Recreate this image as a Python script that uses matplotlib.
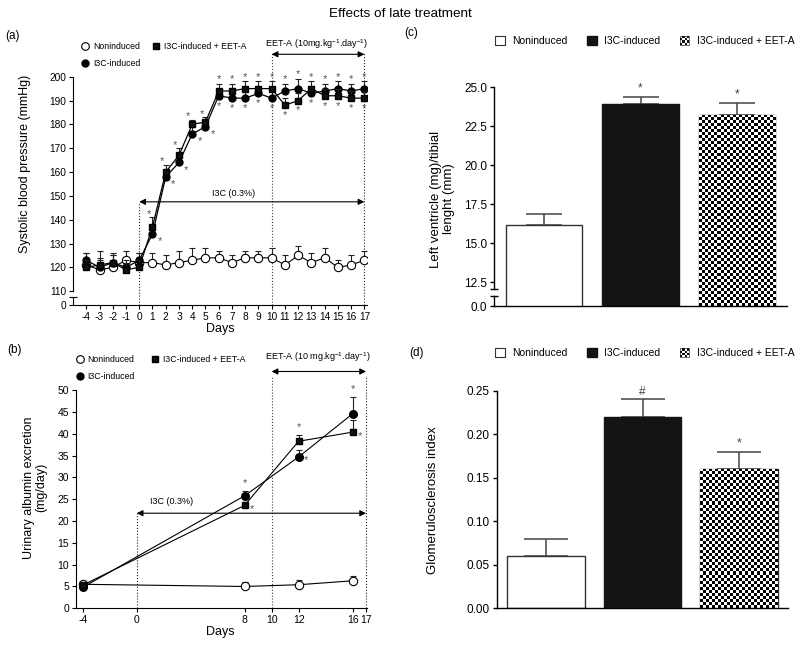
import numpy as np
import matplotlib
matplotlib.use('Agg')
import matplotlib.pyplot as plt
import matplotlib.transforms as mtransforms
from matplotlib.patches import Rectangle, Patch
from matplotlib.lines import Line2D
from matplotlib.legend_handler import HandlerBase

plt.rcParams['font.family'] = ['Liberation Sans', 'DejaVu Sans']
plt.rcParams['mathtext.fontset'] = 'custom'
plt.rcParams['mathtext.rm'] = 'Liberation Sans'
plt.rcParams['mathtext.default'] = 'regular'

# ---------------- data ----------------
days_a = list(range(-4, 18))
sbp_non = [121, 119, 120, 123, 122, 122, 121, 122, 123, 124, 124, 122, 124, 124, 124, 121, 125, 122, 124, 120, 121, 123]
sbp_non_err = [5, 8, 6, 4, 4, 4, 4, 5, 5, 4, 3, 3, 3, 3, 4, 4, 4, 4, 4, 3, 4, 4]
sbp_i3c = [123, 120, 122, 120, 123, 134, 158, 164, 176, 179, 192, 191, 191, 193, 191, 194, 195, 193, 194, 195, 194, 195]
sbp_i3c_err = [3, 3, 3, 3, 3, 3, 3, 3, 3, 3, 3, 3, 3, 3, 3, 3, 4, 3, 3, 3, 3, 3]
sbp_eet = [120, 121, 122, 119, 120, 137, 160, 167, 180, 181, 194, 194, 195, 195, 195, 188, 190, 195, 192, 192, 191, 191]
sbp_eet_err = [3, 3, 3, 3, 3, 4, 3, 3, 2, 2, 3, 3, 3, 3, 3, 3, 3, 3, 3, 3, 3, 3]
xticks_a = list(range(-4, 18))
yticks_a = [110, 120, 130, 140, 150, 160, 170, 180, 190, 200]

days_b = [-4, 8, 12, 16]
ua_non = [5.5, 5.0, 5.4, 6.3]
ua_non_err = [0.8, 1.0, 1.0, 1.0]
ua_i3c = [4.8, 25.8, 34.7, 44.6]
ua_i3c_err = [0.6, 1.2, 1.5, 3.9]
ua_eet = [5.3, 23.6, 38.3, 40.4]
ua_eet_err = [0.6, 0.8, 1.5, 2.8]
xticks_b = [-4, 0, 8, 10, 12, 16, 17]
yticks_b = [0, 5, 10, 15, 20, 25, 30, 35, 40, 45, 50]

groups = ['Noninduced', 'I3C-induced', 'I3C-induced + EET-A']
lv_ratio = [16.2, 23.9, 23.25]
lv_err = [0.65, 0.45, 0.77]
lv_marks = ['', '*', '*']
yticks_c = [12.5, 15.0, 17.5, 20.0, 22.5, 25.0]
gs_index = [0.06, 0.22, 0.16]
gs_err = [0.02, 0.02, 0.02]
gs_marks = ['', '#', '*']
yticks_d = [0.00, 0.05, 0.10, 0.15, 0.20, 0.25]

series_labels = ['Noninduced', 'I3C-induced', 'I3C-induced + EET-A']

# ---------------- helpers ----------------
TK = 7.3
def style_axes(ax, lw=0.8):
    for s in ['top', 'right']:
        ax.spines[s].set_visible(False)
    for s in ['left', 'bottom']:
        ax.spines[s].set_linewidth(lw)
    ax.tick_params(direction='out', length=3, width=lw, pad=2)


def axis_break(ax, y0, y1, lw=0.8, cap_upper=None):
    tr = mtransforms.blended_transform_factory(ax.transAxes, ax.transData)
    ax.plot([0, 0], [y0, y1], transform=tr, color='k', lw=lw, clip_on=False)
    ax.plot([0], [y1], transform=tr, marker='_', ms=6, mew=lw, color='k', clip_on=False)
    if cap_upper is not None:
        ax.plot([0], [cap_upper], transform=tr, marker='_', ms=6, mew=lw, color='k', clip_on=False)


def checker_fill(ax, bar, cell_px=3.0):
    x0, w = bar.get_x(), bar.get_width()
    yb = max(bar.get_y(), ax.get_ylim()[0])
    yt = bar.get_y() + bar.get_height()
    p0 = ax.transData.transform((x0, yb))
    p1 = ax.transData.transform((x0 + w, yt))
    nx = max(1, int(round((p1[0] - p0[0]) / cell_px)))
    ny = max(1, int(round((p1[1] - p0[1]) / cell_px)))
    img = (np.add.outer(np.arange(ny), np.arange(nx)) % 2).astype(float)
    im = ax.imshow(img, cmap='gray', vmin=0, vmax=1, extent=(x0, x0 + w, yb, yt),
                   origin='lower', interpolation='nearest', aspect='auto',
                   zorder=bar.get_zorder() + 0.05)
    im.set_clip_path(bar)


class CheckerHandler(HandlerBase):
    def create_artists(self, legend, orig_handle, xdescent, ydescent, width, height, fontsize, trans):
        size = min(width, height)
        x0 = -xdescent + (width - size) / 2
        y0 = -ydescent + (height - size) / 2
        n = 4
        c = size / n
        arts = [Rectangle((x0, y0), size, size, facecolor='white', edgecolor='#333', lw=0.5, transform=trans)]
        for i in range(n):
            for j in range(n):
                if (i + j) % 2 == 0:
                    arts.append(Rectangle((x0 + i * c, y0 + j * c), c, c, facecolor='#111',
                                          edgecolor='none', transform=trans))
        return arts


fig = plt.figure(figsize=(8, 6.46), dpi=100)
fig.text(0.5, 0.978, 'Effects of late treatment', ha='center', va='center', fontsize=9.7)

# ================= panel (a) =================
axA = fig.add_axes([0.0913, 0.5271, 0.3675, 0.3542])
style_axes(axA)
zer = np.zeros(len(days_a))
axA.errorbar(days_a, sbp_non, yerr=[zer, sbp_non_err], fmt='-o', color='k', mfc='white', mec='k',
             ms=6, mew=0.8, lw=0.8, ecolor='#222', elinewidth=0.8, capsize=2.5, capthick=0.8, zorder=2)
axA.errorbar(days_a, sbp_i3c, yerr=[zer, sbp_i3c_err], fmt='-o', color='k', mfc='k', mec='k',
             ms=5, lw=0.9, ecolor='#222', elinewidth=0.8, capsize=2.5, capthick=0.8, zorder=3)
axA.errorbar(days_a, sbp_eet, yerr=[zer, sbp_eet_err], fmt='-s', color='k', mfc='#111', mec='k',
             ms=5, lw=0.9, ecolor='#222', elinewidth=0.8, capsize=2.5, capthick=0.8, zorder=4)
axA.set_xlim(-5, 17.2)
axA.set_ylim(104, 200)
axA.spines['left'].set_bounds(110, 200)
axA.set_yticks([104] + yticks_a)
axA.set_yticklabels(['0'] + [str(v) for v in yticks_a], fontsize=TK)
axA.set_xticks(xticks_a)
axA.set_xticklabels([str(v) for v in xticks_a], fontsize=TK)
axis_break(axA, 104, 107.5)

star_kw = dict(ha='center', va='center', fontsize=8, color='#555', clip_on=False)
for i, d in enumerate(days_a):
    if d < 1:
        continue
    hi = max(sbp_i3c[i] + sbp_i3c_err[i], sbp_eet[i] + sbp_eet_err[i])
    lo = min(sbp_i3c[i], sbp_eet[i])
    if d <= 5:
        axA.text(d - 0.3, hi + 1.5, '*', **star_kw)
        axA.text(d + 0.55, lo - 3.0, '*', **star_kw)
    else:
        axA.text(d, hi + 2.0, '*', **star_kw)
        axA.text(d, lo - 4.2, '*', **star_kw)

# treatment annotations
axA.plot([0, 0], [104, 147.5], ls=':', color='#222', lw=0.8)
axA.plot([10, 10], [104, 210.5], ls=':', color='#444', lw=0.8, clip_on=False)
axA.plot([17, 17], [104, 210.5], ls=':', color='#222', lw=0.8, clip_on=False)
arr = dict(arrowstyle='<|-|>', color='k', lw=0.8, mutation_scale=9, shrinkA=0, shrinkB=0)
axA.annotate('', xy=(17, 147.5), xytext=(0, 147.5), arrowprops=arr, annotation_clip=False)
axA.text(7.1, 151, 'I3C (0.3%)', ha='center', va='center', fontsize=6.5)
axA.annotate('', xy=(17, 209.4), xytext=(10, 209.4), arrowprops=arr, annotation_clip=False)
axA.text(13.4, 213.5, 'EET-A (10mg.kg$^{-1}$.day$^{-1}$)', ha='center', va='center', fontsize=6.5)

hA = [Line2D([], [], ls='none', marker='o', mfc='white', mec='k', ms=5.5, mew=0.8),
      Line2D([], [], ls='none', marker='o', mfc='k', mec='k', ms=5),
      Line2D([], [], ls='none', marker='s', mfc='#111', mec='k', ms=5)]
fig.legend(hA, series_labels, ncol=2, loc='upper left', bbox_to_anchor=(0.102, 0.935),
           frameon=False, fontsize=6.3, handlelength=0.8, handletextpad=0.5,
           columnspacing=1.4, labelspacing=0.95, borderpad=0, borderaxespad=0)

fig.text(0.031, 0.746, 'Systolic blood pressure (mmHg)', rotation=90, ha='center', va='center', fontsize=9)
fig.text(0.275, 0.490, 'Days', ha='center', va='center', fontsize=9)
fig.text(0.015, 0.944, '(a)', ha='center', va='center', fontsize=8.5)

# ================= panel (b) =================
axB = fig.add_axes([0.095, 0.0584, 0.3634, 0.3375])
style_axes(axB)
zb = np.zeros(len(days_b))
axB.errorbar(days_b, ua_non, yerr=[zb, ua_non_err], fmt='-o', color='k', mfc='white', mec='k',
             ms=6, mew=0.8, lw=0.8, ecolor='#222', elinewidth=0.8, capsize=2.5, capthick=0.8, zorder=2)
axB.errorbar(days_b, ua_i3c, yerr=[zb, ua_i3c_err], fmt='-o', color='k', mfc='k', mec='k',
             ms=5.5, lw=0.8, ecolor='#222', elinewidth=0.8, capsize=2.5, capthick=0.8, zorder=3)
axB.errorbar(days_b, ua_eet, yerr=[zb, ua_eet_err], fmt='-s', color='k', mfc='#111', mec='k',
             ms=5, lw=0.8, ecolor='#222', elinewidth=0.8, capsize=2.5, capthick=0.8, zorder=4)
axB.set_xlim(-4.5, 17.05)
axB.set_ylim(0, 50)
axB.set_xticks(xticks_b)
axB.set_xticklabels([str(v) for v in xticks_b], fontsize=7.5)
axB.set_yticks(yticks_b)
axB.set_yticklabels([str(v) for v in yticks_b], fontsize=7.5)

for i, d in enumerate(days_b):
    if d < 8:
        continue
    top_i = ua_i3c[i] + ua_i3c_err[i]
    top_e = ua_eet[i] + ua_eet_err[i]
    if top_i >= top_e:
        axB.text(d, top_i + 1.8, '*', **star_kw)
        axB.text(d + 0.55, ua_eet[i] - 0.8, '*', **star_kw)
    else:
        axB.text(d, top_e + 1.8, '*', **star_kw)
        axB.text(d + 0.55, ua_i3c[i] - 0.8, '*', **star_kw)

axB.plot([0, 0], [0, 21.8], ls=':', color='#222', lw=0.8)
axB.plot([10, 10], [0, 53.3], ls=':', color='#444', lw=0.8, clip_on=False)
axB.plot([17, 17], [0, 53.3], ls=':', color='#222', lw=0.8, clip_on=False)
axB.annotate('', xy=(17, 21.8), xytext=(0, 21.8), arrowprops=arr, annotation_clip=False)
axB.text(2.55, 24.4, 'I3C (0.3%)', ha='center', va='center', fontsize=6.5)
axB.annotate('', xy=(17, 54.3), xytext=(10, 54.3), arrowprops=arr, annotation_clip=False)
axB.text(13.4, 57.5, 'EET-A (10 mg.kg$^{-1}$.day$^{-1}$)', ha='center', va='center', fontsize=6.5)

fig.legend(hA, series_labels, ncol=2, loc='upper left', bbox_to_anchor=(0.095, 0.451),
           frameon=False, fontsize=6.3, handlelength=0.8, handletextpad=0.5,
           columnspacing=1.9, labelspacing=1.0, borderpad=0, borderaxespad=0)

fig.text(0.044, 0.245, 'Urinary albumin excretion\n(mg/day)', rotation=90, ha='center', va='center',
         fontsize=9, linespacing=1.1)
fig.text(0.276, 0.022, 'Days', ha='center', va='center', fontsize=9)
fig.text(0.018, 0.458, '(b)', ha='center', va='center', fontsize=8.5)

# ================= bar panels =================
bar_colors = ['white', '#141414', 'white']
bar_edges = ['#333', '#141414', '#333']


def bar_panel(ax, vals, errs, marks, ylim, width, capsize, mark_off):
    style_axes(ax, lw=1.0)
    xpos = np.arange(len(vals))
    bars = ax.bar(xpos, vals, width=width, color=bar_colors, edgecolor=bar_edges, lw=1.0, zorder=2)
    ax.set_xlim(-0.51, 2.51)
    ax.set_ylim(*ylim)
    checker_fill(ax, bars[2])
    ax.set_xlim(-0.51, 2.51)
    ax.set_ylim(*ylim)
    ax.errorbar(xpos, vals, yerr=[np.zeros(len(vals)), errs], fmt='none', ecolor='#444',
                elinewidth=1.1, capsize=capsize, capthick=1.1, zorder=1.5)
    for x, v, e, m in zip(xpos, vals, errs, marks):
        if m:
            ax.text(x, v + e + mark_off, m, ha='center', va='center', fontsize=8.5,
                    color='#444', clip_on=False)
    ax.set_xticks([])
    return bars


hC = [Patch(facecolor='white', edgecolor='#333', lw=0.8),
      Patch(facecolor='#141414', edgecolor='#141414'),
      Patch(facecolor='white', edgecolor='#333')]

# ---- (c)
axC = fig.add_axes([0.6179, 0.5263, 0.3655, 0.3385])
bar_panel(axC, lv_ratio, lv_err, lv_marks, (10.98, 25.0), 0.786, 13, 0.55)
axC.set_yticks([10.98] + yticks_c)
axC.set_yticklabels(['0.0'] + ['%.1f' % v for v in yticks_c], fontsize=8.5)
axC.spines['left'].set_bounds(12.05, 25.0)
axis_break(axC, 10.98, 11.64, lw=1.0, cap_upper=12.05)
fig.legend(hC, groups, ncol=3, loc='center', bbox_to_anchor=(0.806, 0.9365), frameon=False,
           fontsize=7.5, handlelength=0.9, handleheight=0.9, handletextpad=0.7, columnspacing=1.9,
           borderpad=0, borderaxespad=0, handler_map={hC[2]: CheckerHandler()})
fig.text(0.553, 0.692, 'Left ventricle (mg)/tibial\nlenght (mm)', rotation=90, ha='center', va='center',
         fontsize=9.5, linespacing=1.1)
fig.text(0.514, 0.949, '(c)', ha='center', va='center', fontsize=8.5)

# ---- (d)
axD = fig.add_axes([0.6209, 0.0584, 0.3645, 0.3368])
bar_panel(axD, gs_index, gs_err, gs_marks, (0.0, 0.25), 0.807, 16, 0.009)
axD.set_yticks(yticks_d)
axD.set_yticklabels(['%.2f' % v for v in yticks_d], fontsize=8.5)
fig.legend(hC, groups, ncol=3, loc='center', bbox_to_anchor=(0.806, 0.453), frameon=False,
           fontsize=7.5, handlelength=0.9, handleheight=0.9, handletextpad=0.7, columnspacing=1.9,
           borderpad=0, borderaxespad=0, handler_map={hC[2]: CheckerHandler()})
fig.text(0.541, 0.226, 'Glomerulosclerosis index', rotation=90, ha='center', va='center', fontsize=9.5)
fig.text(0.521, 0.453, '(d)', ha='center', va='center', fontsize=8.5)

fig.savefig('out.png', dpi=100)
